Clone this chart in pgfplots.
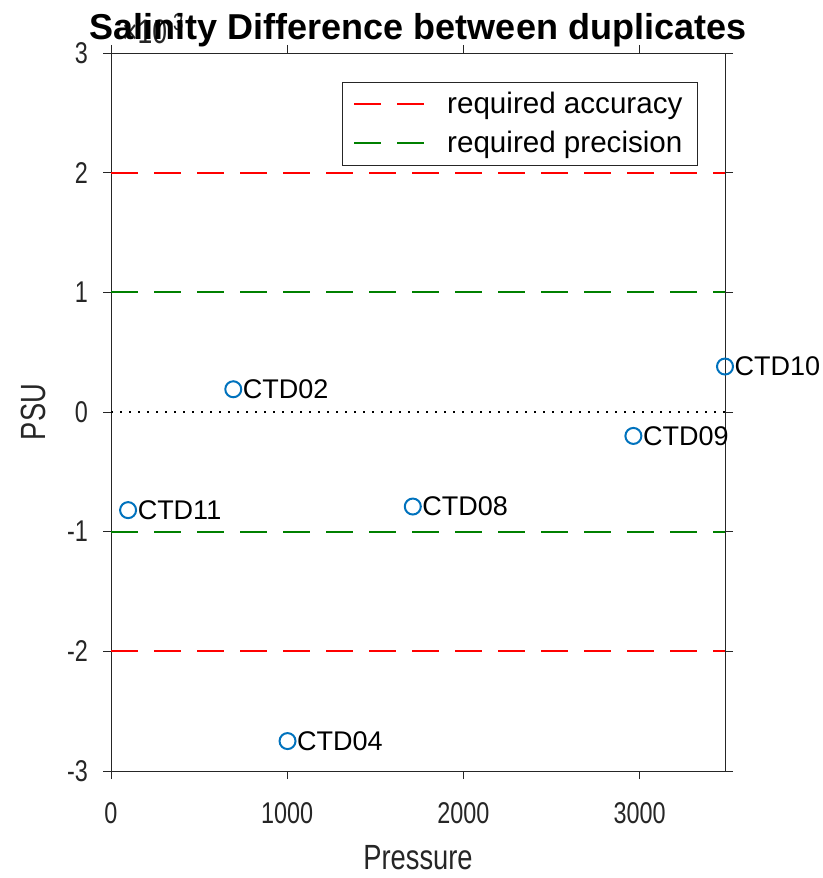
\documentclass[border=0pt]{standalone}
\usepackage{fontspec}
\setmainfont{Liberation Sans}
\newfontfamily\narrow[FakeStretch=0.78]{Liberation Sans}
\usepackage{pgfplots}
\pgfplotsset{compat=1.18}
\definecolor{mblue}{rgb}{0,0.447,0.741}
\definecolor{mgreen}{rgb}{0,0.5,0}
\definecolor{axgray}{rgb}{0.15,0.15,0.15}
\begin{document}
\begin{tikzpicture}
\begin{axis}[name=ax, scale only axis, width=307pt, height=359pt,
 xmin=0, xmax=3485, ymin=-3, ymax=3,
 xtick={0,1000,2000,3000}, xticklabels={0,1000,2000,3000},
 ytick={-3,-2,-1,0,1,2,3}, yticklabels={-3,-2,-1,0,1,2,3},
 tick align=outside, major tick length=4pt,
 tick style={axgray, line width=0.5pt},
 axis line style={axgray, line width=0.5pt},
 ticklabel style={font=\narrow\fontsize{15}{18}\selectfont, text=axgray},
 xticklabel style={yshift=-8pt},
 yticklabel style={xshift=-4pt},
 xlabel={Pressure}, ylabel={PSU},
 xlabel shift=4pt, ylabel shift=4pt,
 label style={font=\narrow\fontsize{17.5}{21}\selectfont, text=axgray},
 clip=false,
 legend style={at={(0.956,0.96)}, anchor=north east, draw=axgray, line width=0.5pt,
   font=\fontsize{14.8}{17}\selectfont, row sep=3pt, column sep=8pt, inner xsep=5.5pt, inner ysep=3pt},
 legend cell align=left,
 legend image code/.code={\draw[#1] (0pt,0pt) -- (36pt,0pt);},
]
\addplot[red, line width=1pt, dash pattern=on 13.5pt off 8pt] coordinates {(0,2) (3485,2)};
\addlegendentry{required accuracy}
\addplot[mgreen, line width=1pt, dash pattern=on 13.5pt off 8pt] coordinates {(0,1) (3485,1)};
\addlegendentry{required precision}
\addplot[red, line width=1pt, dash pattern=on 13.5pt off 8pt, forget plot] coordinates {(0,-2) (3485,-2)};
\addplot[mgreen, line width=1pt, dash pattern=on 13.5pt off 8pt, forget plot] coordinates {(0,-1) (3485,-1)};
\addplot[black, line width=1pt, dash pattern=on 1pt off 3.5pt, forget plot] coordinates {(0,0) (3485,0)};
\addplot[only marks, mark=o, mark size=4pt, mblue, line width=1pt, forget plot,
  point meta=explicit symbolic, nodes near coords,
  nodes near coords style={anchor=west, xshift=1pt, text=black, font=\fontsize{13.5}{15}\selectfont}]
  table[meta=label] {
x y label
694 0.19 CTD02
97 -0.82 CTD11
1713 -0.79 CTD08
1002 -2.75 CTD04
2965 -0.20 CTD09
3485 0.38 CTD10
};
\node[anchor=base west, xshift=2pt, yshift=5pt, font=\narrow\fontsize{17}{20}\selectfont, text=axgray] at (rel axis cs:0,1) {×10\textsuperscript{-3}};
\end{axis}
\node[anchor=base, yshift=6.5pt, font=\bfseries\fontsize{18}{21}\selectfont] at (ax.north) {Salinity Difference between duplicates};
\pgfresetboundingbox
\path ([shift={(-55.5pt,-53.5pt)}]ax.south west) rectangle ([shift={(48.5pt,26.5pt)}]ax.north east);
\end{tikzpicture}
\end{document}
